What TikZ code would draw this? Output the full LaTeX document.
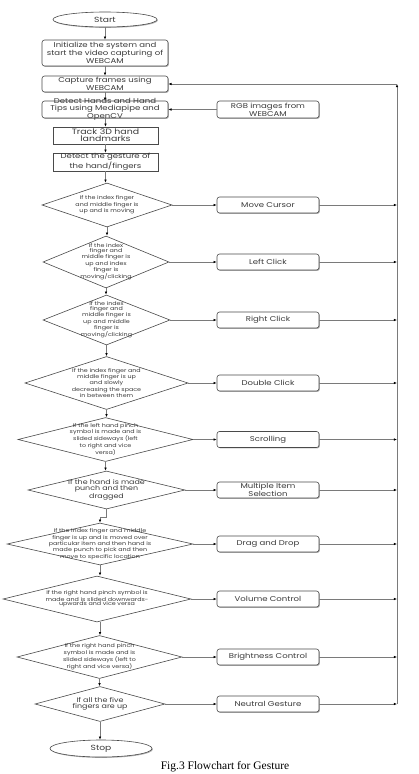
\documentclass[tikz,border=0pt]{standalone}
\usepackage{fontspec}
\setmainfont{Liberation Serif}
\newfontfamily\gfont[FakeStretch=1.22]{Poppins}
\usetikzlibrary{shapes.geometric,arrows.meta,shadows}
\definecolor{lngray}{HTML}{7A7A7A}
\definecolor{bdgray}{HTML}{4A4A4A}
\definecolor{txtgray}{HTML}{3A3A3A}
\begin{document}
\begin{tikzpicture}[x=1pt,y=-1pt,
  ln/.style={draw=lngray, line width=0.6pt},
  arr/.style={ln, -{Latex[length=3.2pt,width=2.6pt,color=black]}},
  shad/.style={drop shadow={shadow xshift=0.9pt, shadow yshift=-0.9pt, opacity=0.3, fill=black}},
  rbox/.style={draw=bdgray, line width=0.6pt, rounded corners=2.5pt, fill=white, shad, inner sep=0pt, align=center, text=txtgray, font=\gfont\fontsize{7}{6.8}\selectfont},
  sbox/.style={rbox, rounded corners=0pt},
  btxt/.style={inner sep=0pt, align=center, text=txtgray, font=\gfont\fontsize{7}{6.8}\selectfont},
  term/.style={ellipse, draw=bdgray, line width=0.6pt, fill=white, shad, inner sep=0pt, text=txtgray, font=\gfont\fontsize{7.5}{8}\selectfont},
  dia/.style={diamond, draw=bdgray, line width=0.6pt, fill=white, inner sep=0pt},
  dtxt/.style={inner sep=0pt, align=center, text=txtgray, font=\gfont\fontsize{5.2}{4.7}\selectfont},
  dtxtl/.style={inner sep=0pt, align=center, text=txtgray, font=\gfont\fontsize{6.5}{5.8}\selectfont},
  act/.style={rbox, minimum width=102pt, minimum height=16pt}
]
\fill[white] (0,0) rectangle (419,774);
\useasboundingbox (0,0) rectangle (419,774);

% top column
\node[term, minimum width=104pt, minimum height=15pt] (start) at (105,19.5) {Start};
\node[rbox, minimum width=126pt, minimum height=26pt] (init) at (105,53) {Initialize the system and\\start the video capturing of\\WEBCAM};
\node[rbox, minimum width=126pt, minimum height=16pt] (cap) at (105,84) {Capture frames using\\WEBCAM};
\node[rbox, minimum width=126pt, minimum height=17pt] (det) at (105,109.5) {};
\node[btxt] (dett) at (det) {Detect Hands and Hand\\Tips using Mediapipe and\\OpenCV};
\node[rbox, minimum width=102pt, minimum height=17pt] (rgb) at (268,109.5) {RGB images from\\WEBCAM};
\node[sbox, minimum width=105pt, minimum height=17pt, font=\gfont\fontsize{7.7}{7}\selectfont] (track) at (105.5,135.5) {Track 3D hand\\landmarks};
\node[sbox, minimum width=105pt, minimum height=18pt] (gest) at (105.5,162) {Detect the gesture of\\the hand/fingers};

% decisions
\node[dia, minimum width=130pt, minimum height=44pt] (d1) at (107,205) {};
\node[dia, minimum width=126pt, minimum height=52pt] (d2) at (106,262) {};
\node[dia, minimum width=127pt, minimum height=50pt] (d3) at (106.5,320) {};
\node[dia, minimum width=163pt, minimum height=53pt] (d4) at (106.5,383) {};
\node[dia, minimum width=175pt, minimum height=44pt] (d5) at (105.5,439.5) {};
\node[dia, minimum width=157pt, minimum height=38pt] (d6) at (106.5,490) {};
\node[dia, minimum width=186pt, minimum height=42pt] (d7) at (100,544) {};
\node[dia, minimum width=188pt, minimum height=46pt] (d8) at (97,599) {};
\node[dia, minimum width=165pt, minimum height=43pt] (d9) at (99.5,657) {};
\node[dia, minimum width=130pt, minimum height=35pt] (d10) at (100,704) {};
\node[term, minimum width=102pt, minimum height=17pt] (stop) at (101,748.5) {Stop};

\node[dtxt] (t1) at (d1) {If the index finger\\and middle finger is\\up and is moving};
\node[dtxt] (t2) at (d2) {If the index\\finger and\\middle finger is\\up and index\\finger is\\moving/clicking};
\node[dtxt] (t3) at (d3) {If the index\\finger and\\middle finger is\\up and middle\\finger is\\moving/clicking};
\node[dtxt] (t4) at (d4) {If the index finger and\\middle finger is up\\and slowly\\decreasing the space\\in between them};
\node[dtxt] (t5) at (d5) {If the left hand pinch\\symbol is made and is\\slided sideways (left\\to right and vice\\versa)};
\node[dtxtl] (t6) at (d6) {If the hand is made\\punch and then\\dragged};
\node[dtxt] (t7) at (d7) {If the index finger and middle\\finger is up and is moved over\\particular item and then hand is\\made punch to pick and then\\move to specific location};
\node[dtxt] (t8) at (d8) {If the right hand pinch symbol is\\made and is slided downwards-\\upwards and vice versa};
\node[dtxt] (t9) at (d9) {If the right hand pinch\\symbol is made and is\\slided sideways (left to\\right and vice versa)};
\node[dtxtl] (t10) at (d10) {If all the five\\fingers are up};

% actions
\node[act] (r1) at (268,205) {Move Cursor};
\node[act] (r2) at (268,262) {Left Click};
\node[act] (r3) at (268,320) {Right Click};
\node[act] (r4) at (268,383) {Double Click};
\node[act] (r5) at (268,439.5) {Scrolling};
\node[act] (r6) at (268,490) {Multiple Item\\Selection};
\node[act] (r7) at (268,544) {Drag and Drop};
\node[act] (r8) at (268,599) {Volume Control};
\node[act] (r9) at (268,657) {Brightness Control};
\node[act] (r10) at (268,704) {Neutral Gesture};

\coordinate (bust) at (397,84);
\coordinate (busb) at (397,704);

% main flow
\draw[arr] (start) -- (init);
\draw[arr] (init) -- (cap);
\draw[arr] (cap) -- (det);
\draw[arr] (det.south -| track.north) -- (track.north);
\draw[arr] (track) -- (gest);
\draw[arr] (gest.south) -- (gest.south |- d1.north);
\draw[arr] (d1.south) -- (d1.south |- d2.north);
\draw[arr] (d2.south) -- (d2.south |- d3.north);
\draw[arr] (d3.south) -- (d3.south |- d4.north);
\draw[arr] (d4.south) -- (d4.south |- d5.north);
\draw[arr] (d5.south) -- (d5.south |- d6.north);
\draw[arr] (d6.south) -- ++(0,8) -| (d7.north);
\draw[arr] (d7.south) -- (d7.south |- d8.north);
\draw[arr] (d7.south |- d8.south) -- (d7.south |- d9.north);
\draw[arr] (d9.south) -- (d9.south |- d10.north);
\draw[arr] (d10.south) -- (d10.south |- stop.north);
\draw[arr] (rgb.west) -- (det.east);

% decisions to actions and bus
\foreach \i in {1,...,10}{
  \draw[arr] (d\i.east) -- (r\i.west);
  \draw[arr] (r\i.east) -- (r\i.east -| bust);
}
\draw[arr] (busb) -- (bust);
\draw[arr] (bust) -- (cap.east);

\node[inner sep=0pt, font=\fontsize{11.5}{12}\selectfont] (cap3) at (225,767) {Fig.3 Flowchart for Gesture};
\end{tikzpicture}
\end{document}
